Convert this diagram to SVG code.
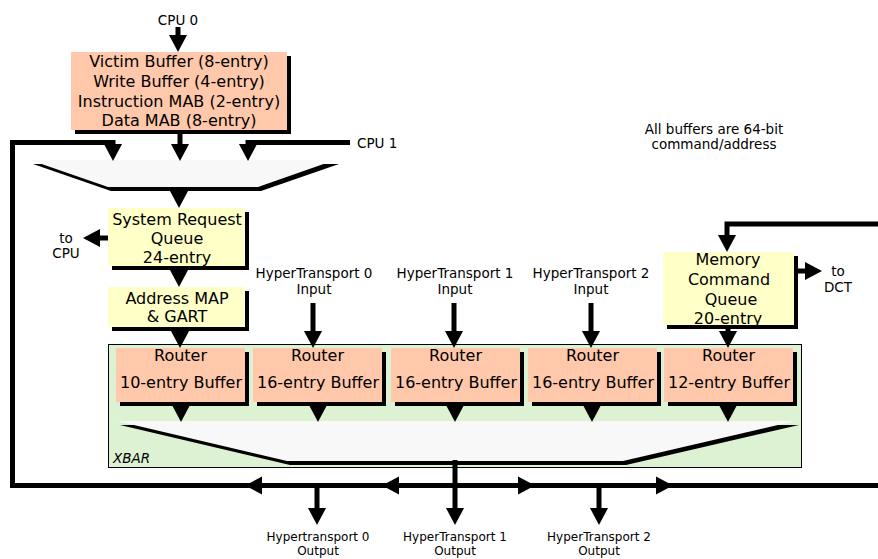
<svg xmlns="http://www.w3.org/2000/svg" xmlns:xlink="http://www.w3.org/1999/xlink" width="878" height="559" viewBox="0 0 878 559">
<style>
text{font-family:"DejaVu Sans","Verdana",sans-serif;fill:#000}
.big{font-size:16px;text-anchor:middle}
.sm{font-size:13.5px;text-anchor:middle}
.out{font-size:12px;text-anchor:middle}
.sh{fill:#000}
.sal{fill:#FFC8AA}
.yel{fill:#FFFFC8}
.ln{stroke:#000;stroke-width:5;fill:none}
.fun{fill:#F8F8F8}
</style>
<defs>
<path id="ah" d="M-9,-17 L9,-17 L0,0 Z" fill="#000"/>
</defs>
<rect width="878" height="559" fill="#fff"/>

<g id="xbar">
<rect x="108.5" y="344.5" width="693" height="123" fill="#DCF2D2" stroke="#000" stroke-width="1"/>
<polygon class="sh" points="120,425 799,425 626,465 290,465"/>
<polygon class="fun" points="117,421 795,421 623,461 287,461"/>
<text x="113" y="463" style="font-size:13.5px;font-style:italic">XBAR</text>
</g>

<g id="cpu-mux">
<polygon class="sh" points="33,164 339,164 261,191 111,191"/>
<polygon class="fun" points="30,160 335,160 258,187 108,187"/>
</g>

<g id="cpu-buffers">
<rect class="sh" x="75" y="56" width="216" height="78"/>
<rect class="sal" x="71" y="52" width="216" height="78"/>
<text class="big" x="179" y="67">Victim Buffer (8-entry)</text>
<text class="big" x="179" y="87">Write Buffer (4-entry)</text>
<text class="big" x="179" y="107">Instruction MAB (2-entry)</text>
<text class="big" x="179" y="126">Data MAB (8-entry)</text>
</g>

<g id="srq">
<rect class="sh" x="112" y="212" width="137" height="58"/>
<rect class="yel" x="108" y="208" width="137" height="58"/>
<text class="big" x="177" y="225">System Request</text>
<text class="big" x="177" y="244">Queue</text>
<text class="big" x="177" y="263">24-entry</text>
</g>

<g id="addrmap">
<rect class="sh" x="112" y="291" width="137" height="40"/>
<rect class="yel" x="108" y="287" width="137" height="40"/>
<text class="big" x="177" y="304">Address MAP</text>
<text class="big" x="177" y="322">&amp; GART</text>
</g>

<g id="mcq">
<rect class="sh" x="667" y="256" width="131" height="73"/>
<rect class="yel" x="663" y="252" width="131" height="73"/>
<text class="big" x="728" y="265">Memory</text>
<text class="big" x="729" y="285">Command</text>
<text class="big" x="731" y="305">Queue</text>
<text class="big" x="728" y="324">20-entry</text>
</g>

<g id="router0">
<rect class="sh" x="120" y="352" width="129" height="54"/>
<rect class="sal" x="116" y="348" width="129" height="54"/>
<text class="big" x="180.5" y="361">Router</text>
<text class="big" x="181" y="388">10-entry Buffer</text>
</g>
<g id="router1">
<rect class="sh" x="257" y="352" width="129" height="54"/>
<rect class="sal" x="253" y="348" width="129" height="54"/>
<text class="big" x="317.5" y="361">Router</text>
<text class="big" x="318" y="388">16-entry Buffer</text>
</g>
<g id="router2">
<rect class="sh" x="395" y="352" width="129" height="54"/>
<rect class="sal" x="391" y="348" width="129" height="54"/>
<text class="big" x="455.5" y="361">Router</text>
<text class="big" x="456" y="388">16-entry Buffer</text>
</g>
<g id="router3">
<rect class="sh" x="532" y="352" width="129" height="54"/>
<rect class="sal" x="528" y="348" width="129" height="54"/>
<text class="big" x="592.5" y="361">Router</text>
<text class="big" x="593" y="388">16-entry Buffer</text>
</g>
<g id="router4">
<rect class="sh" x="668" y="352" width="129" height="54"/>
<rect class="sal" x="664" y="348" width="129" height="54"/>
<text class="big" x="728.5" y="361">Router</text>
<text class="big" x="729" y="388">12-entry Buffer</text>
</g>

<g id="labels">
<text class="sm" x="178" y="25">CPU 0</text>
<text x="357" y="148" style="font-size:13.5px">CPU 1</text>
<text class="sm" x="714" y="134">All buffers are 64-bit</text>
<text class="sm" x="714" y="149">command/address</text>
<text class="sm" x="66" y="243">to</text>
<text class="sm" x="66" y="258">CPU</text>
<text class="sm" x="838" y="276">to</text>
<text class="sm" x="838" y="292">DCT</text>
<text class="sm" x="314" y="278">HyperTransport 0</text>
<text class="sm" x="314" y="294">Input</text>
<text class="sm" x="455" y="278">HyperTransport 1</text>
<text class="sm" x="455" y="294">Input</text>
<text class="sm" x="591" y="278">HyperTransport 2</text>
<text class="sm" x="591" y="294">Input</text>
<text class="out" x="318" y="541">Hypertransport 0</text>
<text class="out" x="318" y="555">Output</text>
<text class="out" x="455" y="541">HyperTransport 1</text>
<text class="out" x="455" y="555">Output</text>
<text class="out" x="599" y="541">HyperTransport 2</text>
<text class="out" x="599" y="555">Output</text>
</g>

<g id="connectors">
<path class="ln" d="M178,27 V40"/>
<use href="#ah" x="178" y="52"/>
<path class="ln" d="M180,130 V150"/>
<use href="#ah" x="180" y="161"/>
<path class="ln" d="M455,485.5 H12.5 V142.5 H113 V150"/>
<use href="#ah" x="113" y="161"/>
<path class="ln" d="M350,142.5 H248 V150"/>
<use href="#ah" x="248" y="161"/>
<path class="ln" d="M179,187 V196"/>
<use href="#ah" x="179" y="208"/>
<path class="ln" d="M108,238 H95"/>
<use href="#ah" transform="translate(83,238) rotate(90)"/>
<path class="ln" d="M179,266 V275"/>
<use href="#ah" x="179" y="287"/>
<path class="ln" d="M180,327 V336"/>
<use href="#ah" x="180" y="348"/>
<path class="ln" d="M313,303 V336"/>
<use href="#ah" x="313" y="348"/>
<path class="ln" d="M454,303 V336"/>
<use href="#ah" x="454" y="348"/>
<path class="ln" d="M591,303 V336"/>
<use href="#ah" x="591" y="348"/>
<path class="ln" d="M878,224 H727 V240"/>
<use href="#ah" x="727" y="252"/>
<path class="ln" d="M798,271 H810"/>
<use href="#ah" transform="translate(822,271) rotate(-90)"/>
<path class="ln" d="M728,325 V336"/>
<use href="#ah" x="728" y="348"/>
<use href="#ah" x="181" y="422"/>
<use href="#ah" x="318" y="422"/>
<use href="#ah" x="455" y="422"/>
<use href="#ah" x="592" y="422"/>
<use href="#ah" x="728" y="422"/>
<path class="ln" d="M455,460 V513"/>
<use href="#ah" x="455" y="525"/>
<path class="ln" d="M455,485.5 H878"/>
<use href="#ah" transform="translate(245,485.5) rotate(90)"/>
<use href="#ah" transform="translate(382,485.5) rotate(90)"/>
<use href="#ah" transform="translate(535,485.5) rotate(-90)"/>
<use href="#ah" transform="translate(673,485.5) rotate(-90)"/>
<path class="ln" d="M317,485.5 V513"/>
<use href="#ah" x="317" y="525"/>
<path class="ln" d="M599,485.5 V513"/>
<use href="#ah" x="599" y="525"/>
</g>
</svg>
